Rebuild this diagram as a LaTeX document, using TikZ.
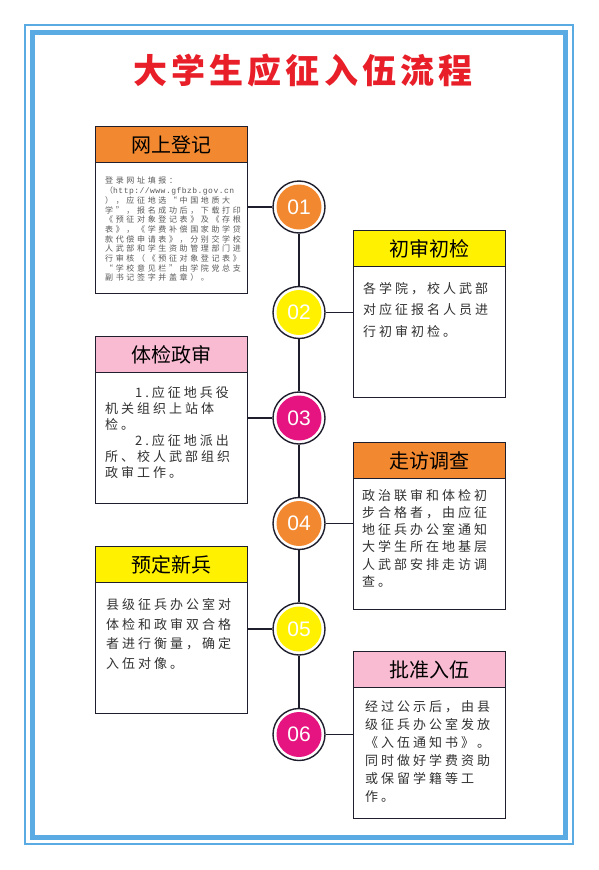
\documentclass[tikz,border=0pt]{standalone}
\usepackage{fontspec}
\newfontfamily\cjk{Noto Sans CJK SC}
\newfontfamily\cjkbody[LetterSpace=23]{Noto Sans CJK SC}
\newfontfamily\cjksmall[LetterSpace=33]{Noto Sans CJK SC}
\newfontfamily\urlmono[LetterSpace=6]{Liberation Mono}
\newfontfamily\titlefont[LetterSpace=12]{Noto Sans CJK SC}
\newfontfamily\numfont{Liberation Sans}
\definecolor{borderblue}{RGB}{90,170,228}
\definecolor{hdorange}{RGB}{242,137,48}
\definecolor{hdyellow}{RGB}{255,241,0}
\definecolor{hdpink}{RGB}{248,187,210}
\definecolor{cmagenta}{RGB}{230,20,128}
\definecolor{titlered}{RGB}{232,30,40}
\definecolor{boxline}{RGB}{30,30,45}
\definecolor{textgray}{RGB}{50,50,50}
\begin{document}
\begin{tikzpicture}[x=1pt,y=-1pt,
  hdr/.style={draw=boxline, line width=1.4pt, minimum width=152pt, minimum height=36pt, inner sep=0pt, anchor=north west, font={\cjk\fontsize{20}{24}\selectfont}},
  bodybox/.style={draw=boxline, line width=1.4pt, fill=white, minimum width=152pt, minimum height=131pt, inner sep=0pt, anchor=north west},
  ring/.style={circle, draw=boxline, line width=1.4pt, fill=white, minimum size=52pt, inner sep=0pt},
  disc/.style={circle, minimum size=45pt, inner sep=0pt, text=white, font={\numfont\fontsize{21}{24}\selectfont}},
  bodytext/.style={anchor=north west, inner sep=0pt, align=left, text=textgray, font={\cjkbody\fontsize{13}{#1}\selectfont}},
  smalltext/.style={anchor=north west, inner sep=0pt, align=left, text=black!65, font={\cjksmall\fontsize{8}{9.7}\selectfont}},
  link/.style={draw=boxline, line width=1.4pt}
]
\useasboundingbox[fill=white] (0,0) rectangle (598,870);
% frame
\draw[borderblue, line width=2pt] (25,25) rectangle (573,844);
\draw[borderblue, line width=5pt] (32.5,32.5) rectangle (565.5,837);
% title
\node[text=titlered, font={\titlefont\bfseries\fontsize{34}{40}\selectfont}, inner sep=0pt] (title) at (303,71) {大学生应征入伍流程};

% circles
\foreach \i/\y/\c in {1/207/hdorange, 2/312.5/hdyellow, 3/418/cmagenta, 4/523.5/hdorange, 5/629/hdyellow, 6/734.5/cmagenta}{
  \node[ring] (c\i) at (299,\y) {};
  \node[disc, fill=\c] (n\i) at (c\i) {0\i};
}
\draw[link] (c1.south) -- (c2.north);
\draw[link] (c2.south) -- (c3.north);
\draw[link] (c3.south) -- (c4.north);
\draw[link] (c4.south) -- (c5.north);
\draw[link] (c5.south) -- (c6.north);

% left boxes
\node[bodybox] (b1) at (95,162) {};
\node[hdr, fill=hdorange] (h1) at (95,126) {网上登记};
\node[bodybox] (b3) at (95,372) {};
\node[hdr, fill=hdpink] (h3) at (95,336) {体检政审};
\node[bodybox] (b5) at (95,582) {};
\node[hdr, fill=hdyellow] (h5) at (95,546) {预定新兵};
% right boxes
\node[bodybox] (b2) at (352.5,266) {};
\node[hdr, fill=hdyellow] (h2) at (352.5,230) {初审初检};
\node[bodybox] (b4) at (352.5,478) {};
\node[hdr, fill=hdorange] (h4) at (352.5,442) {走访调查};
\node[bodybox] (b6) at (352.5,687) {};
\node[hdr, fill=hdpink] (h6) at (352.5,651) {批准入伍};

% connectors
\draw[link] (c1.west) -- (c1.west -| b1.east);
\draw[link] (c3.west) -- (c3.west -| b3.east);
\draw[link] (c5.west) -- (c5.west -| b5.east);
\draw[link] (c2.east) -- (c2.east -| b2.west);
\draw[link] (c4.east) -- (c4.east -| b4.west);
\draw[link] (c6.east) -- (c6.east -| b6.west);

% texts
\node[smalltext] (t1) at (105,177) {登录网址填报：\\（{\urlmono http://www.gfbzb.gov.cn}\\），应征地选“中国地质大\\学”，报名成功后，下载打印\\《预征对象登记表》及《存根\\表》，《学费补偿国家助学贷\\款代偿申请表》，分别交学校\\人武部和学生资助管理部门进\\行审核（《预征对象登记表》\\“学校意见栏”由学院党总支\\副书记签字并盖章）。};
\node[bodytext=16] (t3) at (105,386.5) {\hspace*{30pt}1.应征地兵役\\机关组织上站体\\检。\\\hspace*{30pt}2.应征地派出\\所、校人武部组织\\政审工作。};
\node[bodytext=19.5] (t5) at (106,598.5) {县级征兵办公室对\\体检和政审双合格\\者进行衡量，确定\\入伍对像。};
\node[bodytext=21.7] (t2) at (363,282) {各学院，校人武部\\对应征报名人员进\\行初审初检。};
\node[bodytext=17.2] (t4) at (362,489) {政治联审和体检初\\步合格者，由应征\\地征兵办公室通知\\大学生所在地基层\\人武部安排走访调\\查。};
\node[bodytext=18] (t6) at (365,700) {经过公示后，由县\\级征兵办公室发放\\《入伍通知书》。\\同时做好学费资助\\或保留学籍等工\\作。};
\end{tikzpicture}
\end{document}
